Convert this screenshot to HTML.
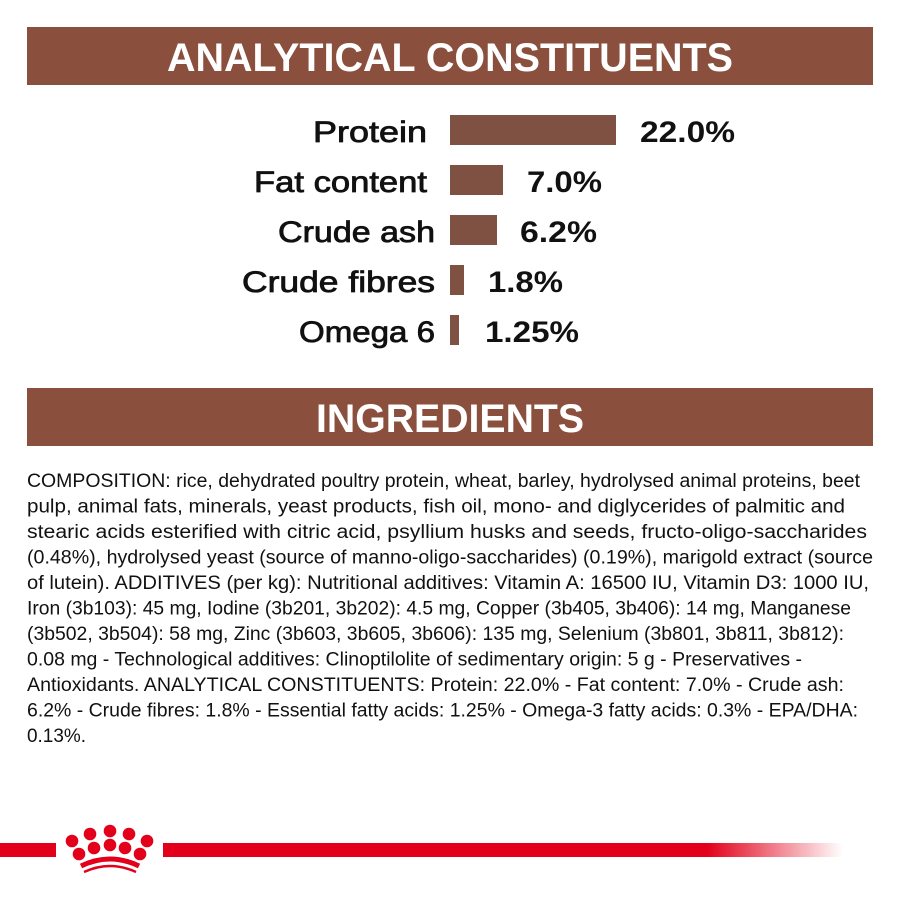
<!DOCTYPE html>
<html><head><meta charset="utf-8"><style>
html,body{margin:0;padding:0;background:#fff;}
svg{display:block;}
</style></head><body>
<svg width="900" height="900" viewBox="0 0 900 900" xmlns="http://www.w3.org/2000/svg">
<defs>
<linearGradient id="fade" x1="0" x2="1" y1="0" y2="0">
<stop offset="0" stop-color="#e2001a"/>
<stop offset="0.8" stop-color="#e2001a"/>
<stop offset="1" stop-color="#e2001a" stop-opacity="0"/>
</linearGradient>
</defs>
<rect width="900" height="900" fill="#fff"/>
<rect x="27" y="27" width="846" height="58" fill="#8b4f3e"/>
<text x="167" y="71" font-family="Liberation Sans, sans-serif" font-weight="bold" font-size="40" fill="#fff" textLength="566" lengthAdjust="spacingAndGlyphs">ANALYTICAL CONSTITUENTS</text>

<g font-family="Liberation Sans, sans-serif" font-size="30" fill="#111" stroke="#111" stroke-width="0.8">
<text x="313" y="142" textLength="114" lengthAdjust="spacingAndGlyphs">Protein</text>
<text x="254" y="192" textLength="173" lengthAdjust="spacingAndGlyphs">Fat content</text>
<text x="278" y="242" textLength="157" lengthAdjust="spacingAndGlyphs">Crude ash</text>
<text x="242" y="292" textLength="193" lengthAdjust="spacingAndGlyphs">Crude fibres</text>
<text x="299" y="342" textLength="136" lengthAdjust="spacingAndGlyphs">Omega 6</text>
</g>
<g fill="#7e5142">
<rect x="450" y="115" width="166" height="30"/>
<rect x="450" y="165" width="53" height="30"/>
<rect x="450" y="215" width="47" height="30"/>
<rect x="450" y="265" width="14" height="30"/>
<rect x="450" y="315" width="9" height="30"/>
</g>
<g font-family="Liberation Sans, sans-serif" font-size="30" font-weight="bold" fill="#111">
<text x="640" y="142" textLength="95" lengthAdjust="spacingAndGlyphs">22.0%</text>
<text x="527" y="192" textLength="75" lengthAdjust="spacingAndGlyphs">7.0%</text>
<text x="520" y="242" textLength="77" lengthAdjust="spacingAndGlyphs">6.2%</text>
<text x="488" y="292" textLength="75" lengthAdjust="spacingAndGlyphs">1.8%</text>
<text x="485" y="342" textLength="94" lengthAdjust="spacingAndGlyphs">1.25%</text>
</g>

<rect x="27" y="388" width="846" height="58" fill="#8b4f3e"/>
<text x="316" y="432" font-family="Liberation Sans, sans-serif" font-weight="bold" font-size="40" fill="#fff" textLength="268" lengthAdjust="spacingAndGlyphs">INGREDIENTS</text>

<g font-family="Liberation Sans, sans-serif" font-size="19" fill="#111">
<text x="27" y="487" textLength="833" lengthAdjust="spacingAndGlyphs">COMPOSITION: rice, dehydrated poultry protein, wheat, barley, hydrolysed animal proteins, beet</text>
<text x="27" y="512.5" textLength="818" lengthAdjust="spacingAndGlyphs">pulp, animal fats, minerals, yeast products, fish oil, mono- and diglycerides of palmitic and</text>
<text x="27" y="538" textLength="840" lengthAdjust="spacingAndGlyphs">stearic acids esterified with citric acid, psyllium husks and seeds, fructo-oligo-saccharides</text>
<text x="27" y="563.5" textLength="846" lengthAdjust="spacingAndGlyphs">(0.48%), hydrolysed yeast (source of manno-oligo-saccharides) (0.19%), marigold extract (source</text>
<text x="27" y="589" textLength="842" lengthAdjust="spacingAndGlyphs">of lutein). ADDITIVES (per kg): Nutritional additives: Vitamin A: 16500 IU, Vitamin D3: 1000 IU,</text>
<text x="27" y="614.5" textLength="824" lengthAdjust="spacingAndGlyphs">Iron (3b103): 45 mg, Iodine (3b201, 3b202): 4.5 mg, Copper (3b405, 3b406): 14 mg, Manganese</text>
<text x="27" y="640" textLength="817" lengthAdjust="spacingAndGlyphs">(3b502, 3b504): 58 mg, Zinc (3b603, 3b605, 3b606): 135 mg, Selenium (3b801, 3b811, 3b812):</text>
<text x="27" y="665.5" textLength="775" lengthAdjust="spacingAndGlyphs">0.08 mg - Technological additives: Clinoptilolite of sedimentary origin: 5 g - Preservatives -</text>
<text x="27" y="691" textLength="817" lengthAdjust="spacingAndGlyphs">Antioxidants. ANALYTICAL CONSTITUENTS: Protein: 22.0% - Fat content: 7.0% - Crude ash:</text>
<text x="27" y="716.5" textLength="831" lengthAdjust="spacingAndGlyphs">6.2% - Crude fibres: 1.8% - Essential fatty acids: 1.25% - Omega-3 fatty acids: 0.3% - EPA/DHA:</text>
<text x="27" y="742" textLength="59" lengthAdjust="spacingAndGlyphs">0.13%.</text>
</g>

<rect x="0" y="843" width="56" height="14" fill="#e2001a"/>
<rect x="163" y="843" width="680" height="14" fill="url(#fade)"/>
<g fill="#e2001a">
<circle cx="72" cy="841" r="6.3"/>
<circle cx="90" cy="834" r="6.3"/>
<circle cx="110" cy="831" r="6.3"/>
<circle cx="129" cy="834" r="6.3"/>
<circle cx="147" cy="841" r="6.3"/>
<circle cx="79" cy="854" r="6.3"/>
<circle cx="94" cy="848" r="6.3"/>
<circle cx="110" cy="845" r="6.3"/>
<circle cx="125" cy="848" r="6.3"/>
<circle cx="140" cy="854" r="6.3"/>
</g>
<path d="M81 866 Q110 852 139 866" stroke="#e2001a" stroke-width="5" fill="none"/>
<path d="M84 872 Q110 860 136 872" stroke="#e2001a" stroke-width="2.5" fill="none"/>
</svg>
</body></html>
